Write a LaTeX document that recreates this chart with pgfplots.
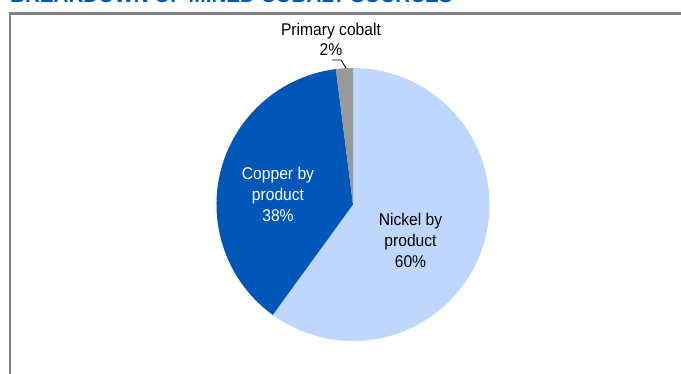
\documentclass[border=0pt]{standalone}
\usepackage{pgfplots}
\pgfplotsset{compat=1.18}
\usepackage{pgfplotstable}
\usepackage{fontspec}
\setmainfont{Liberation Sans}[FakeStretch=0.92]
\newfontfamily\titlefont{Liberation Sans}
\definecolor{nickel}{HTML}{BFD7FF}
\definecolor{copper}{HTML}{0057B8}
\definecolor{cobalt}{HTML}{999999}
\definecolor{framec}{HTML}{808080}
\definecolor{ttl}{HTML}{0055B8}

\pgfplotstableread{
source value
Nickel 60
Copper 38
Cobalt 2
}\piedata

\begin{document}
\begin{tikzpicture}
\pgfplotstablegetelem{0}{value}\of\piedata \let\vA\pgfplotsretval
\pgfplotstablegetelem{1}{value}\of\piedata \let\vB\pgfplotsretval
\pgfplotstablegetelem{2}{value}\of\piedata \let\vC\pgfplotsretval
\pgfmathsetmacro\aA{90-3.6*\vA}
\pgfmathsetmacro\aB{\aA-3.6*\vB}
\pgfmathsetmacro\aC{\aB-3.6*\vC}
\useasboundingbox (0,0) rectangle (681bp,374bp);
\clip (0,0) rectangle (681bp,374bp);
\begin{axis}[x=1bp,y=1bp,xmin=0,xmax=681,ymin=0,ymax=374,hide axis,clip=false,anchor=origin,at={(0,0)}]
\fill[nickel] (axis cs:353,169.5) -- ++(90:136.5bp) arc[start angle=90,end angle=\aA,radius=136.5bp] -- cycle;
\fill[copper] (axis cs:353,169.5) -- ++(\aA:136.5bp) arc[start angle=\aA,end angle=\aB,radius=136.5bp] -- cycle;
\fill[cobalt] (axis cs:353,169.5) -- ++(\aB:136.5bp) arc[start angle=\aB,end angle=\aC,radius=136.5bp] -- cycle;
\node[align=center,font=\fontsize{17bp}{21bp}\selectfont,text=black] at (axis cs:410.5,134) {Nickel by\\product\\60\%};
\node[align=center,font=\fontsize{17bp}{21bp}\selectfont,text=white] at (axis cs:278,179.5) {Copper by\\product\\38\%};
\node[align=center,font=\fontsize{17bp}{20bp}\selectfont,text=black] at (axis cs:331,334.5) {Primary cobalt\\2\%};
\draw[black,line width=0.8bp] (axis cs:332,314) -- (axis cs:341,314) -- (axis cs:346,306);
\node[anchor=base west,font=\titlefont\fontsize{20.6bp}{24bp}\selectfont\bfseries,text=ttl,inner sep=0] at (axis cs:10,371.5) {BREAKDOWN OF MINED COBALT SOURCES};
\draw[framec,line width=2.5bp] (axis cs:9,360.5) -- (axis cs:690,360.5);
\draw[framec,line width=2bp] (axis cs:10,361.75) -- (axis cs:10,-5);
\end{axis}
\end{tikzpicture}
\end{document}
